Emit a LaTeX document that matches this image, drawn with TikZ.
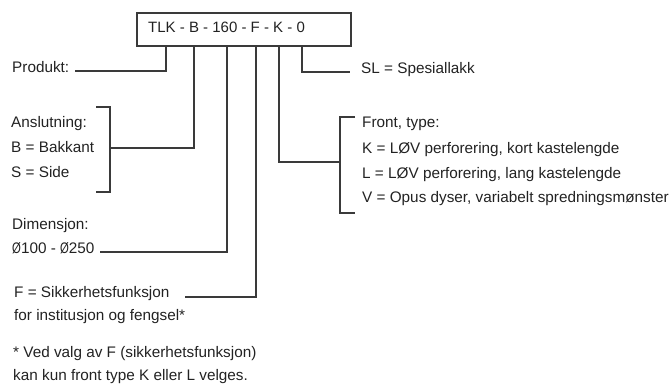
\documentclass[tikz,border=0pt]{standalone}
\usepackage{fontspec}
\usepackage{graphicx}
\setmainfont{Liberation Sans}
\definecolor{linecol}{HTML}{3A3A3A}
\definecolor{txtcol}{HTML}{222222}
\newcommand\slashzero{\scalebox{0.74}[1]{Ø}}
\begin{document}
\begin{tikzpicture}[x=1pt,y=-1pt,
  lbl/.style={anchor=base west,inner sep=0pt,text=txtcol,font=\fontsize{15.3}{18}\selectfont},
  conn/.style={draw=linecol,line width=1.1pt},
  codebox/.style={draw=linecol,line width=1.1pt,minimum width=214pt,minimum height=33pt,inner sep=0pt}]
\useasboundingbox (0,0) rectangle (670,387);
% code box
\node[codebox] (box) at (244,29.5) {};
\node[lbl,font=\fontsize{15}{18}\selectfont] (code) at (148,33) {TLK - B - 160 - F - K - 0};
% tap points on the box
\coordinate (t1) at (166,46);
\coordinate (t2) at (194,46);
\coordinate (t3) at (227,46);
\coordinate (t4) at (256,46);
\coordinate (t5) at (279,46);
\coordinate (t6) at (302,46);
% left labels
\node[lbl] (prod) at (12,73) {Produkt:};
\node[lbl] (ansl) at (11,128) {Anslutning:};
\node[lbl] (bakk) at (11,153) {B = Bakkant};
\node[lbl] (side) at (11,178) {S = Side};
\node[lbl] (dim) at (12,230) {Dimensjon:};
\node[lbl] (dimv) at (12,254) {\slashzero100 - \slashzero250};
\node[lbl] (sikk) at (14,298) {F = Sikkerhetsfunksjon};
\node[lbl] (inst) at (14,321) {for institusjon og fengsel*};
\node[lbl] (note1) at (13,358) {* Ved valg av F (sikkerhetsfunksjon)};
\node[lbl] (note2) at (13,381) {kan kun front type K eller L velges.};
% right labels
\node[lbl] (sl) at (361,74) {SL = Spesiallakk};
\node[lbl] (front) at (362,128) {Front, type:};
\node[lbl] (fk) at (362,154) {K = LØV perforering, kort kastelengde};
\node[lbl] (fl) at (362,179) {L = LØV perforering, lang kastelengde};
\node[lbl] (fv) at (362,203) {V = Opus dyser, variabelt spredningsmønster};
% connector end points
\coordinate (e1) at (75,71);
\coordinate (bl) at (110,148);
\coordinate (e3) at (100,252);
\coordinate (e4) at (185,297);
\coordinate (br) at (340,162);
\coordinate (e6) at (350,72);
% brackets
\draw[conn] (96,107) -- (110,107) -- (110,192) -- (96,192);
\draw[conn] (355,117) -- (340,117) -- (340,213) -- (355,213);
% connectors
\draw[conn] (t1) |- (e1);
\draw[conn] (t2) |- (bl);
\draw[conn] (t3) |- (e3);
\draw[conn] (t4) |- (e4);
\draw[conn] (t5) |- (br);
\draw[conn] (t6) |- (e6);
\end{tikzpicture}
\end{document}
